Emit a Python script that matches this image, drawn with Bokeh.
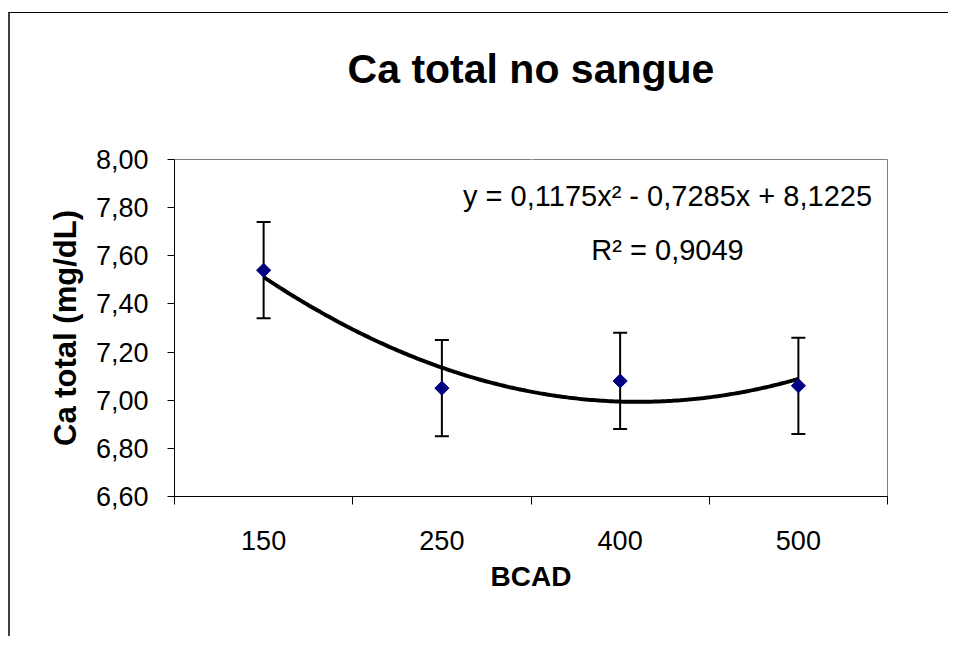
import numpy as np
from bokeh.plotting import figure
from bokeh.models import (Range1d, FixedTicker, CustomJSTickFormatter, ColumnDataSource,
                          Whisker, TeeHead, Label, LinearAxis)
from bokeh.embed import file_html
from bokeh.resources import INLINE

# ---- data ----
categories = ["150", "250", "400", "500"]
ca_total = [7.54, 7.05, 7.08, 7.06]
ca_error = [0.20, 0.20, 0.20, 0.20]
y_ticks = [6.6, 6.8, 7.0, 7.2, 7.4, 7.6, 7.8, 8.0]
trend_coef = [0.1175, -0.7285, 8.1225]   # a x^2 + b x + c, x = 1..4
title_text = "Ca total no sangue"
eq_text = "y = 0,1175x\u00b2 - 0,7285x + 8,1225"
r2_text = "R\u00b2 = 0,9049"

FONT = "Liberation Sans"

xpos = list(range(1, len(categories) + 1))
src = ColumnDataSource(dict(
    x=xpos, y=ca_total,
    upper=[v + e for v, e in zip(ca_total, ca_error)],
    lower=[v - e for v, e in zip(ca_total, ca_error)],
))

p = figure(width=940, height=624, output_backend="svg", toolbar_location=None,
           x_range=Range1d(0.5, len(categories) + 0.5), y_range=Range1d(6.6, 8.0),
           min_border_left=164, min_border_right=63, min_border_top=146,
           min_border_bottom=141)
p.styles = {"margin-left": "8px", "margin-top": "12px",
            "border-left": "2px solid #404040", "border-top": "1px solid #000000"}

p.xgrid.visible = False
p.ygrid.visible = False
p.outline_line_color = "#808080"
p.outline_line_width = 1
p.background_fill_color = "white"
p.border_fill_color = "white"

# x axis (below): labels at category centres, ticks at category boundaries
xa = p.below[0]
xa.ticker = FixedTicker(ticks=xpos, minor_ticks=[i + 0.5 for i in range(len(categories) + 1)])
xa.major_label_overrides = {i: c for i, c in zip(xpos, categories)}
xa.major_tick_out = 0
xa.major_tick_in = 0
xa.minor_tick_out = 8
xa.minor_tick_in = 0
xa.minor_tick_line_color = "black"
xa.axis_line_color = "black"
xa.major_label_text_font = FONT
xa.major_label_text_font_size = "27px"
xa.major_label_text_color = "black"
xa.major_label_standoff = 26
xa.axis_label = "BCAD"
xa.axis_label_text_font = FONT
xa.axis_label_text_font_size = "28px"
xa.axis_label_text_font_style = "bold"
xa.axis_label_text_color = "black"
xa.axis_label_standoff = 8

ya = p.left[0]
ya.ticker = FixedTicker(ticks=y_ticks, minor_ticks=[])
ya.formatter = CustomJSTickFormatter(code="return tick.toFixed(2).replace('.', ',');")
ya.major_tick_out = 7
ya.major_tick_in = 0
ya.axis_line_color = "black"
ya.major_tick_line_color = "black"
ya.major_label_text_font = FONT
ya.major_label_text_font_size = "27px"
ya.major_label_text_color = "black"
ya.major_label_standoff = 19
ya.axis_label = "Ca total (mg/dL)"
ya.axis_label_text_font = FONT
ya.axis_label_text_font_size = "31px"
ya.axis_label_text_font_style = "bold"
ya.axis_label_text_color = "black"
ya.axis_label_standoff = 10

# blank spacer axis above the frame (white tick on white), so that the title sits higher
spacer = LinearAxis(ticker=FixedTicker(ticks=[2.5], minor_ticks=[]), axis_line_color=None,
                    major_tick_line_color="white", minor_tick_line_color=None,
                    major_tick_out=62, major_tick_in=0, minor_tick_out=0, minor_tick_in=0,
                    major_label_standoff=0, major_label_text_font_size="1px",
                    major_label_overrides={2.5: ""})
p.add_layout(spacer, "above")

p.title.text = title_text
p.title.text_font = FONT
p.title.text_font_size = "41px"
p.title.text_font_style = "bold"
p.title.text_color = "black"
p.title.align = "center"
p.title.standoff = 12

# trend line from the displayed polynomial
xs = np.linspace(1, len(categories), 200)
a, b, c = trend_coef
p.line(xs, a * xs**2 + b * xs + c, line_color="black", line_width=4)

# error bars
w = Whisker(source=src, base="x", upper="upper", lower="lower",
            line_color="black", line_width=2,
            upper_head=TeeHead(size=14, line_color="black", line_width=2),
            lower_head=TeeHead(size=14, line_color="black", line_width=2))
p.add_layout(w)

# markers
p.scatter("x", "y", source=src, marker="square", angle=np.pi / 4, size=10,
          fill_color="#000080", line_color="#000080")

# equation labels
p.add_layout(Label(x=3.266, y=7.85, text=eq_text, text_font=FONT, text_font_size="29px",
                   text_align="center", text_baseline="alphabetic", text_color="black"))
p.add_layout(Label(x=3.266, y=7.626, text=r2_text, text_font=FONT, text_font_size="29px",
                   text_align="center", text_baseline="alphabetic", text_color="black"))

open("out.html", "w").write(file_html(p, INLINE))
